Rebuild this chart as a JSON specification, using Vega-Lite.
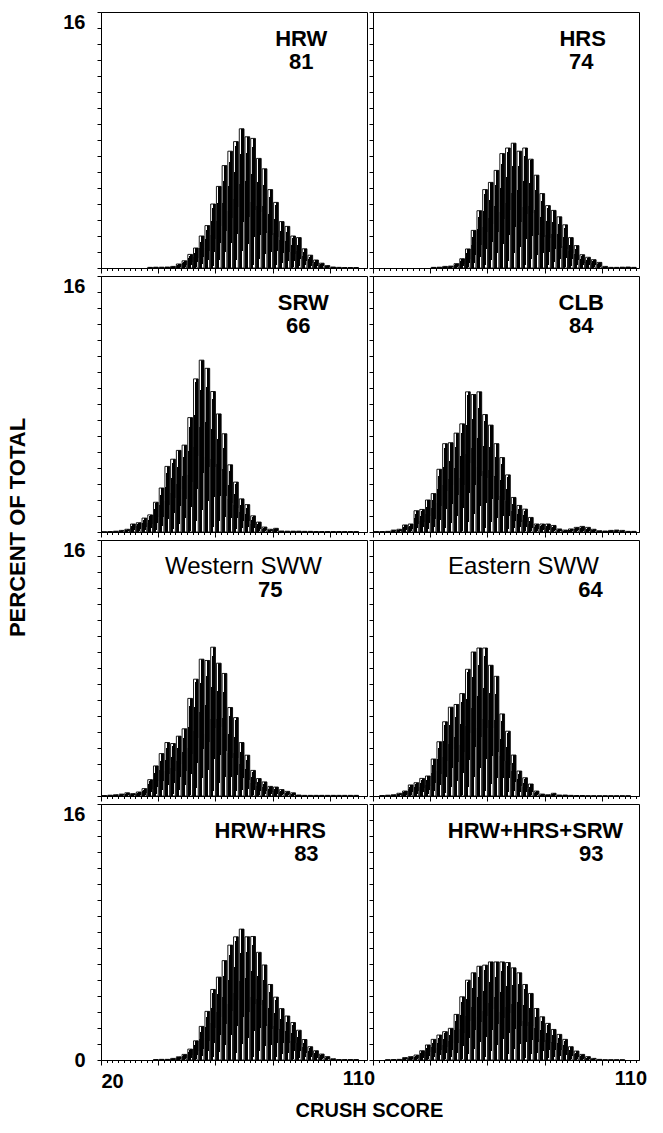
{
"$schema": "https://vega.github.io/schema/vega-lite/v6.json",
"padding": {"left": 5, "top": 11, "right": 5, "bottom": 5},
"background": "white",
"columns": 2,
"bounds": "flush",
"spacing": {"row": 8, "column": 6},
"datasets": {
"h": [
{"p":"HRW","b":36,"e":38,"v":0.04},{"p":"HRW","b":38,"e":40,"v":0.05},{"p":"HRW","b":40,"e":42,"v":0.05},{"p":"HRW","b":42,"e":44,"v":0.06},{"p":"HRW","b":44,"e":46,"v":0.1},{"p":"HRW","b":46,"e":48,"v":0.25},{"p":"HRW","b":48,"e":50,"v":0.45},{"p":"HRW","b":50,"e":52,"v":0.85},{"p":"HRW","b":52,"e":54,"v":1.25},{"p":"HRW","b":54,"e":56,"v":2.0},{"p":"HRW","b":56,"e":58,"v":2.65},{"p":"HRW","b":58,"e":60,"v":4.0},{"p":"HRW","b":60,"e":62,"v":5.1},{"p":"HRW","b":62,"e":64,"v":6.4},{"p":"HRW","b":64,"e":66,"v":7.3},{"p":"HRW","b":66,"e":68,"v":7.9},{"p":"HRW","b":68,"e":70,"v":8.7},{"p":"HRW","b":70,"e":72,"v":8.2},{"p":"HRW","b":72,"e":74,"v":8.1},{"p":"HRW","b":74,"e":76,"v":6.85},{"p":"HRW","b":76,"e":78,"v":6.2},{"p":"HRW","b":78,"e":80,"v":4.9},{"p":"HRW","b":80,"e":82,"v":4.1},{"p":"HRW","b":82,"e":84,"v":2.9},{"p":"HRW","b":84,"e":86,"v":2.6},{"p":"HRW","b":86,"e":88,"v":2.0},{"p":"HRW","b":88,"e":90,"v":1.9},{"p":"HRW","b":90,"e":92,"v":1.2},{"p":"HRW","b":92,"e":94,"v":0.8},{"p":"HRW","b":94,"e":96,"v":0.5},{"p":"HRW","b":96,"e":98,"v":0.3},{"p":"HRW","b":98,"e":100,"v":0.15},{"p":"HRW","b":100,"e":102,"v":0.06},{"p":"HRW","b":102,"e":104,"v":0.04},{"p":"HRW","b":104,"e":106,"v":0.03},{"p":"HRW","b":106,"e":108,"v":0.03},{"p":"HRW","b":108,"e":110,"v":0.03},
{"p":"HRS","b":40,"e":42,"v":0.04},{"p":"HRS","b":42,"e":44,"v":0.05},{"p":"HRS","b":44,"e":46,"v":0.1},{"p":"HRS","b":46,"e":48,"v":0.12},{"p":"HRS","b":48,"e":50,"v":0.27},{"p":"HRS","b":50,"e":52,"v":0.58},{"p":"HRS","b":52,"e":54,"v":1.19},{"p":"HRS","b":54,"e":56,"v":2.35},{"p":"HRS","b":56,"e":58,"v":3.58},{"p":"HRS","b":58,"e":60,"v":4.9},{"p":"HRS","b":60,"e":62,"v":5.35},{"p":"HRS","b":62,"e":64,"v":6.1},{"p":"HRS","b":64,"e":66,"v":7.15},{"p":"HRS","b":66,"e":68,"v":7.5},{"p":"HRS","b":68,"e":70,"v":7.8},{"p":"HRS","b":70,"e":72,"v":7.3},{"p":"HRS","b":72,"e":74,"v":7.5},{"p":"HRS","b":74,"e":76,"v":6.8},{"p":"HRS","b":76,"e":78,"v":5.8},{"p":"HRS","b":78,"e":80,"v":4.65},{"p":"HRS","b":80,"e":82,"v":3.9},{"p":"HRS","b":82,"e":84,"v":3.6},{"p":"HRS","b":84,"e":86,"v":3.2},{"p":"HRS","b":86,"e":88,"v":2.7},{"p":"HRS","b":88,"e":90,"v":1.9},{"p":"HRS","b":90,"e":92,"v":1.4},{"p":"HRS","b":92,"e":94,"v":0.83},{"p":"HRS","b":94,"e":96,"v":0.67},{"p":"HRS","b":96,"e":98,"v":0.52},{"p":"HRS","b":98,"e":100,"v":0.35},{"p":"HRS","b":100,"e":102,"v":0.1},{"p":"HRS","b":102,"e":104,"v":0.04},{"p":"HRS","b":104,"e":106,"v":0.04},{"p":"HRS","b":106,"e":108,"v":0.05},{"p":"HRS","b":108,"e":110,"v":0.06},{"p":"HRS","b":110,"e":112,"v":0.04},
{"p":"SRW","b":20,"e":22,"v":0.02},{"p":"SRW","b":22,"e":24,"v":0.03},{"p":"SRW","b":24,"e":26,"v":0.05},{"p":"SRW","b":26,"e":28,"v":0.1},{"p":"SRW","b":28,"e":30,"v":0.17},{"p":"SRW","b":30,"e":32,"v":0.5},{"p":"SRW","b":32,"e":34,"v":0.58},{"p":"SRW","b":34,"e":36,"v":0.87},{"p":"SRW","b":36,"e":38,"v":1.07},{"p":"SRW","b":38,"e":40,"v":1.86},{"p":"SRW","b":40,"e":42,"v":2.75},{"p":"SRW","b":42,"e":44,"v":4.1},{"p":"SRW","b":44,"e":46,"v":4.55},{"p":"SRW","b":46,"e":48,"v":5.1},{"p":"SRW","b":48,"e":50,"v":5.43},{"p":"SRW","b":50,"e":52,"v":7.15},{"p":"SRW","b":52,"e":54,"v":9.57},{"p":"SRW","b":54,"e":56,"v":10.74},{"p":"SRW","b":56,"e":58,"v":10.23},{"p":"SRW","b":58,"e":60,"v":8.78},{"p":"SRW","b":60,"e":62,"v":7.38},{"p":"SRW","b":62,"e":64,"v":6.14},{"p":"SRW","b":64,"e":66,"v":4.2},{"p":"SRW","b":66,"e":68,"v":3.12},{"p":"SRW","b":68,"e":70,"v":2.07},{"p":"SRW","b":70,"e":72,"v":1.71},{"p":"SRW","b":72,"e":74,"v":1.01},{"p":"SRW","b":74,"e":76,"v":0.62},{"p":"SRW","b":76,"e":78,"v":0.31},{"p":"SRW","b":78,"e":80,"v":0.17},{"p":"SRW","b":80,"e":82,"v":0.23},{"p":"SRW","b":82,"e":84,"v":0.06},{"p":"SRW","b":84,"e":86,"v":0.05},{"p":"SRW","b":86,"e":88,"v":0.05},{"p":"SRW","b":88,"e":90,"v":0.05},{"p":"SRW","b":90,"e":92,"v":0.04},{"p":"SRW","b":92,"e":94,"v":0.04},{"p":"SRW","b":94,"e":96,"v":0.03},{"p":"SRW","b":96,"e":98,"v":0.03},{"p":"SRW","b":98,"e":100,"v":0.03},{"p":"SRW","b":100,"e":102,"v":0.03},{"p":"SRW","b":102,"e":104,"v":0.03},{"p":"SRW","b":104,"e":106,"v":0.03},{"p":"SRW","b":106,"e":108,"v":0.03},{"p":"SRW","b":108,"e":110,"v":0.03},
{"p":"CLB","b":20,"e":22,"v":0.03},{"p":"CLB","b":22,"e":24,"v":0.03},{"p":"CLB","b":24,"e":26,"v":0.04},{"p":"CLB","b":26,"e":28,"v":0.12},{"p":"CLB","b":28,"e":30,"v":0.17},{"p":"CLB","b":30,"e":32,"v":0.44},{"p":"CLB","b":32,"e":34,"v":0.5},{"p":"CLB","b":34,"e":36,"v":1.33},{"p":"CLB","b":36,"e":38,"v":1.41},{"p":"CLB","b":38,"e":40,"v":2.0},{"p":"CLB","b":40,"e":42,"v":2.4},{"p":"CLB","b":42,"e":44,"v":3.92},{"p":"CLB","b":44,"e":46,"v":5.52},{"p":"CLB","b":46,"e":48,"v":5.58},{"p":"CLB","b":48,"e":50,"v":6.18},{"p":"CLB","b":50,"e":52,"v":6.76},{"p":"CLB","b":52,"e":54,"v":8.76},{"p":"CLB","b":54,"e":56,"v":8.59},{"p":"CLB","b":56,"e":58,"v":8.76},{"p":"CLB","b":58,"e":60,"v":7.34},{"p":"CLB","b":60,"e":62,"v":6.68},{"p":"CLB","b":62,"e":64,"v":5.52},{"p":"CLB","b":64,"e":66,"v":4.65},{"p":"CLB","b":66,"e":68,"v":3.57},{"p":"CLB","b":68,"e":70,"v":2.16},{"p":"CLB","b":70,"e":72,"v":1.66},{"p":"CLB","b":72,"e":74,"v":1.43},{"p":"CLB","b":74,"e":76,"v":0.91},{"p":"CLB","b":76,"e":78,"v":0.5},{"p":"CLB","b":78,"e":80,"v":0.5},{"p":"CLB","b":80,"e":82,"v":0.5},{"p":"CLB","b":82,"e":84,"v":0.41},{"p":"CLB","b":84,"e":86,"v":0.19},{"p":"CLB","b":86,"e":88,"v":0.12},{"p":"CLB","b":88,"e":90,"v":0.19},{"p":"CLB","b":90,"e":92,"v":0.29},{"p":"CLB","b":92,"e":94,"v":0.35},{"p":"CLB","b":94,"e":96,"v":0.29},{"p":"CLB","b":96,"e":98,"v":0.17},{"p":"CLB","b":98,"e":100,"v":0.08},{"p":"CLB","b":100,"e":102,"v":0.06},{"p":"CLB","b":102,"e":104,"v":0.1},{"p":"CLB","b":104,"e":106,"v":0.12},{"p":"CLB","b":106,"e":108,"v":0.1},{"p":"CLB","b":108,"e":110,"v":0.04},{"p":"CLB","b":110,"e":112,"v":0.04},
{"p":"WSWW","b":20,"e":22,"v":0.03},{"p":"WSWW","b":22,"e":24,"v":0.05},{"p":"WSWW","b":24,"e":26,"v":0.08},{"p":"WSWW","b":26,"e":28,"v":0.12},{"p":"WSWW","b":28,"e":30,"v":0.2},{"p":"WSWW","b":30,"e":32,"v":0.15},{"p":"WSWW","b":32,"e":34,"v":0.25},{"p":"WSWW","b":34,"e":36,"v":0.46},{"p":"WSWW","b":36,"e":38,"v":1.02},{"p":"WSWW","b":38,"e":40,"v":1.88},{"p":"WSWW","b":40,"e":42,"v":2.65},{"p":"WSWW","b":42,"e":44,"v":3.34},{"p":"WSWW","b":44,"e":46,"v":3.28},{"p":"WSWW","b":46,"e":48,"v":3.74},{"p":"WSWW","b":48,"e":50,"v":4.2},{"p":"WSWW","b":50,"e":52,"v":6.1},{"p":"WSWW","b":52,"e":54,"v":7.3},{"p":"WSWW","b":54,"e":56,"v":8.55},{"p":"WSWW","b":56,"e":58,"v":8.47},{"p":"WSWW","b":58,"e":60,"v":9.3},{"p":"WSWW","b":60,"e":62,"v":8.3},{"p":"WSWW","b":62,"e":64,"v":7.66},{"p":"WSWW","b":64,"e":66,"v":5.53},{"p":"WSWW","b":66,"e":68,"v":4.9},{"p":"WSWW","b":68,"e":70,"v":3.34},{"p":"WSWW","b":70,"e":72,"v":2.55},{"p":"WSWW","b":72,"e":74,"v":1.6},{"p":"WSWW","b":74,"e":76,"v":1.09},{"p":"WSWW","b":76,"e":78,"v":0.88},{"p":"WSWW","b":78,"e":80,"v":0.6},{"p":"WSWW","b":80,"e":82,"v":0.56},{"p":"WSWW","b":82,"e":84,"v":0.4},{"p":"WSWW","b":84,"e":86,"v":0.29},{"p":"WSWW","b":86,"e":88,"v":0.2},{"p":"WSWW","b":88,"e":90,"v":0.06},{"p":"WSWW","b":90,"e":92,"v":0.04},{"p":"WSWW","b":92,"e":94,"v":0.04},{"p":"WSWW","b":94,"e":96,"v":0.04},{"p":"WSWW","b":96,"e":98,"v":0.04},{"p":"WSWW","b":98,"e":100,"v":0.04},{"p":"WSWW","b":100,"e":102,"v":0.04},{"p":"WSWW","b":102,"e":104,"v":0.04},{"p":"WSWW","b":104,"e":106,"v":0.04},{"p":"WSWW","b":106,"e":108,"v":0.04},{"p":"WSWW","b":108,"e":110,"v":0.04},
{"p":"ESWW","b":22,"e":24,"v":0.03},{"p":"ESWW","b":24,"e":26,"v":0.05},{"p":"ESWW","b":26,"e":28,"v":0.08},{"p":"ESWW","b":28,"e":30,"v":0.17},{"p":"ESWW","b":30,"e":32,"v":0.31},{"p":"ESWW","b":32,"e":34,"v":0.69},{"p":"ESWW","b":34,"e":36,"v":0.83},{"p":"ESWW","b":36,"e":38,"v":1.1},{"p":"ESWW","b":38,"e":40,"v":1.25},{"p":"ESWW","b":40,"e":42,"v":2.31},{"p":"ESWW","b":42,"e":44,"v":3.39},{"p":"ESWW","b":44,"e":46,"v":4.64},{"p":"ESWW","b":46,"e":48,"v":5.55},{"p":"ESWW","b":48,"e":50,"v":5.72},{"p":"ESWW","b":50,"e":52,"v":6.4},{"p":"ESWW","b":52,"e":54,"v":7.92},{"p":"ESWW","b":54,"e":56,"v":9.0},{"p":"ESWW","b":56,"e":58,"v":9.25},{"p":"ESWW","b":58,"e":60,"v":9.25},{"p":"ESWW","b":60,"e":62,"v":8.17},{"p":"ESWW","b":62,"e":64,"v":7.48},{"p":"ESWW","b":64,"e":66,"v":5.13},{"p":"ESWW","b":66,"e":68,"v":4.05},{"p":"ESWW","b":68,"e":70,"v":2.56},{"p":"ESWW","b":70,"e":72,"v":1.56},{"p":"ESWW","b":72,"e":74,"v":1.14},{"p":"ESWW","b":74,"e":76,"v":0.75},{"p":"ESWW","b":76,"e":78,"v":0.31},{"p":"ESWW","b":78,"e":80,"v":0.12},{"p":"ESWW","b":80,"e":82,"v":0.08},{"p":"ESWW","b":82,"e":84,"v":0.17},{"p":"ESWW","b":84,"e":86,"v":0.06},{"p":"ESWW","b":86,"e":88,"v":0.06},{"p":"ESWW","b":88,"e":90,"v":0.04},{"p":"ESWW","b":90,"e":92,"v":0.03},{"p":"ESWW","b":92,"e":94,"v":0.03},{"p":"ESWW","b":94,"e":96,"v":0.02},{"p":"ESWW","b":96,"e":98,"v":0.02},{"p":"ESWW","b":98,"e":100,"v":0.02},{"p":"ESWW","b":100,"e":102,"v":0.02},{"p":"ESWW","b":102,"e":104,"v":0.02},{"p":"ESWW","b":104,"e":106,"v":0.02},{"p":"ESWW","b":106,"e":108,"v":0.02},{"p":"ESWW","b":108,"e":110,"v":0.02},
{"p":"HH","b":38,"e":40,"v":0.03},{"p":"HH","b":40,"e":42,"v":0.04},{"p":"HH","b":42,"e":44,"v":0.04},{"p":"HH","b":44,"e":46,"v":0.1},{"p":"HH","b":46,"e":48,"v":0.2},{"p":"HH","b":48,"e":50,"v":0.35},{"p":"HH","b":50,"e":52,"v":0.68},{"p":"HH","b":52,"e":54,"v":1.2},{"p":"HH","b":54,"e":56,"v":2.1},{"p":"HH","b":56,"e":58,"v":3.04},{"p":"HH","b":58,"e":60,"v":4.41},{"p":"HH","b":60,"e":62,"v":5.18},{"p":"HH","b":62,"e":64,"v":6.21},{"p":"HH","b":64,"e":66,"v":7.18},{"p":"HH","b":66,"e":68,"v":7.7},{"p":"HH","b":68,"e":70,"v":8.18},{"p":"HH","b":70,"e":72,"v":7.7},{"p":"HH","b":72,"e":74,"v":7.72},{"p":"HH","b":74,"e":76,"v":6.73},{"p":"HH","b":76,"e":78,"v":5.94},{"p":"HH","b":78,"e":80,"v":4.72},{"p":"HH","b":80,"e":82,"v":3.93},{"p":"HH","b":82,"e":84,"v":3.21},{"p":"HH","b":84,"e":86,"v":2.75},{"p":"HH","b":86,"e":88,"v":2.34},{"p":"HH","b":88,"e":90,"v":1.86},{"p":"HH","b":90,"e":92,"v":1.28},{"p":"HH","b":92,"e":94,"v":0.83},{"p":"HH","b":94,"e":96,"v":0.58},{"p":"HH","b":96,"e":98,"v":0.37},{"p":"HH","b":98,"e":100,"v":0.21},{"p":"HH","b":100,"e":102,"v":0.08},{"p":"HH","b":102,"e":104,"v":0.03},{"p":"HH","b":104,"e":106,"v":0.03},{"p":"HH","b":106,"e":108,"v":0.03},{"p":"HH","b":108,"e":110,"v":0.03},
{"p":"HHS","b":24,"e":26,"v":0.02},{"p":"HHS","b":26,"e":28,"v":0.03},{"p":"HHS","b":28,"e":30,"v":0.04},{"p":"HHS","b":30,"e":32,"v":0.15},{"p":"HHS","b":32,"e":34,"v":0.21},{"p":"HHS","b":34,"e":36,"v":0.31},{"p":"HHS","b":36,"e":38,"v":0.58},{"p":"HHS","b":38,"e":40,"v":0.94},{"p":"HHS","b":40,"e":42,"v":1.29},{"p":"HHS","b":42,"e":44,"v":1.56},{"p":"HHS","b":44,"e":46,"v":1.77},{"p":"HHS","b":46,"e":48,"v":1.98},{"p":"HHS","b":48,"e":50,"v":2.85},{"p":"HHS","b":50,"e":52,"v":3.95},{"p":"HHS","b":52,"e":54,"v":4.99},{"p":"HHS","b":54,"e":56,"v":5.45},{"p":"HHS","b":56,"e":58,"v":5.86},{"p":"HHS","b":58,"e":60,"v":5.93},{"p":"HHS","b":60,"e":62,"v":6.13},{"p":"HHS","b":62,"e":64,"v":6.13},{"p":"HHS","b":64,"e":66,"v":6.13},{"p":"HHS","b":66,"e":68,"v":6.09},{"p":"HHS","b":68,"e":70,"v":5.76},{"p":"HHS","b":70,"e":72,"v":5.45},{"p":"HHS","b":72,"e":74,"v":4.72},{"p":"HHS","b":74,"e":76,"v":4.16},{"p":"HHS","b":76,"e":78,"v":3.22},{"p":"HHS","b":78,"e":80,"v":2.7},{"p":"HHS","b":80,"e":82,"v":2.29},{"p":"HHS","b":82,"e":84,"v":1.91},{"p":"HHS","b":84,"e":86,"v":1.6},{"p":"HHS","b":86,"e":88,"v":1.29},{"p":"HHS","b":88,"e":90,"v":0.83},{"p":"HHS","b":90,"e":92,"v":0.56},{"p":"HHS","b":92,"e":94,"v":0.35},{"p":"HHS","b":94,"e":96,"v":0.21},{"p":"HHS","b":96,"e":98,"v":0.1},{"p":"HHS","b":98,"e":100,"v":0.04},{"p":"HHS","b":100,"e":102,"v":0.02},{"p":"HHS","b":102,"e":104,"v":0.02},{"p":"HHS","b":104,"e":106,"v":0.02},{"p":"HHS","b":106,"e":108,"v":0.02}
],
"lab": [
{"p":"HRW","t":"HRW","tx":90,"ty":14.3},{"p":"HRW","t":"81","tx":90,"ty":12.85},
{"p":"HRS","t":"HRS","tx":93.3,"ty":14.3},{"p":"HRS","t":"74","tx":92.8,"ty":12.85},
{"p":"SRW","t":"SRW","tx":90.7,"ty":14.3},{"p":"SRW","t":"66","tx":89,"ty":12.85},
{"p":"CLB","t":"CLB","tx":92.8,"ty":14.3},{"p":"CLB","t":"84","tx":92.8,"ty":12.85},
{"p":"WSWW","t":"Western SWW","tx":69.8,"ty":14.3},{"p":"WSWW","t":"75","tx":79.2,"ty":12.85},
{"p":"ESWW","t":"Eastern SWW","tx":72.6,"ty":14.3},{"p":"ESWW","t":"64","tx":96,"ty":12.85},
{"p":"HH","t":"HRW+HRS","tx":79.2,"ty":14.3},{"p":"HH","t":"83","tx":91.8,"ty":12.85},
{"p":"HHS","t":"HRW+HRS+SRW","tx":76.8,"ty":14.3},{"p":"HHS","t":"93","tx":96.3,"ty":12.85}
]
},
"concat": [
 {"width": 266, "height": 256, "layer": [
  {"data": {"name": "h"}, "transform": [{"filter": "datum.p == 'HRW'"}],
   "mark": {"type": "bar", "stroke": "black", "strokeWidth": 0.9, "fill": {"gradient": "linear", "x1": 0, "y1": 0, "x2": 1, "y2": 1, "stops": [{"offset": 0, "color": "white"}, {"offset": 0.22, "color": "white"}, {"offset": 0.22, "color": "black"}, {"offset": 0.78, "color": "black"}, {"offset": 0.78, "color": "white"}, {"offset": 1, "color": "white"}]}},
   "encoding": {
    "x": {"field": "b", "type": "quantitative", "bin": {"binned": true}, "scale": {"domain": [20, 113], "nice": false, "zero": false}, "axis": {"values": [20,22,24,26,28,30,32,34,36,38,40,42,44,46,48,50,52,54,56,58,60,62,64,66,68,70,72,74,76,78,80,82,84,86,88,90,92,94,96,98,100,102,104,106,108,110,112], "grid": false, "title": null, "labels": false, "tickSize": {"condition": {"test": "datum.value % 20 == 0", "value": 5}, "value": 2.5}}},
    "x2": {"field": "e"},
    "y": {"field": "v", "type": "quantitative", "scale": {"domain": [0, 16], "nice": false}, "axis": {"values": [0,1,2,3,4,5,6,7,8,9,10,11,12,13,14,15,16], "grid": false, "title": null, "tickSize": 4, "labelExpr": "datum.value == 16 ? '16' : ''", "labelBaseline": "top", "labelPadding": 12, "labelOverlap": false, "labelFlush": false}}
   }},
  {"data": {"name": "lab"}, "transform": [{"filter": "datum.p == 'HRW'"}],
   "mark": {"type": "text", "font": "Liberation Sans", "fontSize": {"expr": "indexof(datum.t, 'SWW') >= 0 ? 24 : 22"}, "fontWeight": {"expr": "indexof(datum.t, 'SWW') >= 0 ? 'normal' : 'bold'"}, "color": "black", "align": "center", "baseline": "middle"},
   "encoding": {
    "x": {"field": "tx", "type": "quantitative", "scale": {"domain": [20, 113], "nice": false, "zero": false}, "axis": {"values": [20,22,24,26,28,30,32,34,36,38,40,42,44,46,48,50,52,54,56,58,60,62,64,66,68,70,72,74,76,78,80,82,84,86,88,90,92,94,96,98,100,102,104,106,108,110,112], "grid": false, "title": null, "labels": false, "tickSize": {"condition": {"test": "datum.value % 20 == 0", "value": 5}, "value": 2.5}}},
    "y": {"field": "ty", "type": "quantitative", "scale": {"domain": [0, 16], "nice": false}, "axis": {"values": [0,1,2,3,4,5,6,7,8,9,10,11,12,13,14,15,16], "grid": false, "title": null, "tickSize": 4, "labelExpr": "datum.value == 16 ? '16' : ''", "labelBaseline": "top", "labelPadding": 12, "labelOverlap": false, "labelFlush": false}},
    "text": {"field": "t"}}}
 ]},
 {"width": 266, "height": 256, "layer": [
  {"data": {"name": "h"}, "transform": [{"filter": "datum.p == 'HRS'"}],
   "mark": {"type": "bar", "stroke": "black", "strokeWidth": 0.9, "fill": {"gradient": "linear", "x1": 0, "y1": 0, "x2": 1, "y2": 1, "stops": [{"offset": 0, "color": "white"}, {"offset": 0.22, "color": "white"}, {"offset": 0.22, "color": "black"}, {"offset": 0.78, "color": "black"}, {"offset": 0.78, "color": "white"}, {"offset": 1, "color": "white"}]}},
   "encoding": {
    "x": {"field": "b", "type": "quantitative", "bin": {"binned": true}, "scale": {"domain": [20, 113], "nice": false, "zero": false}, "axis": {"values": [20,22,24,26,28,30,32,34,36,38,40,42,44,46,48,50,52,54,56,58,60,62,64,66,68,70,72,74,76,78,80,82,84,86,88,90,92,94,96,98,100,102,104,106,108,110,112], "grid": false, "title": null, "labels": false, "tickSize": {"condition": {"test": "datum.value % 20 == 0", "value": 5}, "value": 2.5}}},
    "x2": {"field": "e"},
    "y": {"field": "v", "type": "quantitative", "scale": {"domain": [0, 16], "nice": false}, "axis": {"values": [0,1,2,3,4,5,6,7,8,9,10,11,12,13,14,15,16], "grid": false, "title": null, "tickSize": 4, "labels": false}}
   }},
  {"data": {"name": "lab"}, "transform": [{"filter": "datum.p == 'HRS'"}],
   "mark": {"type": "text", "font": "Liberation Sans", "fontSize": {"expr": "indexof(datum.t, 'SWW') >= 0 ? 24 : 22"}, "fontWeight": {"expr": "indexof(datum.t, 'SWW') >= 0 ? 'normal' : 'bold'"}, "color": "black", "align": "center", "baseline": "middle"},
   "encoding": {
    "x": {"field": "tx", "type": "quantitative", "scale": {"domain": [20, 113], "nice": false, "zero": false}, "axis": {"values": [20,22,24,26,28,30,32,34,36,38,40,42,44,46,48,50,52,54,56,58,60,62,64,66,68,70,72,74,76,78,80,82,84,86,88,90,92,94,96,98,100,102,104,106,108,110,112], "grid": false, "title": null, "labels": false, "tickSize": {"condition": {"test": "datum.value % 20 == 0", "value": 5}, "value": 2.5}}},
    "y": {"field": "ty", "type": "quantitative", "scale": {"domain": [0, 16], "nice": false}, "axis": {"values": [0,1,2,3,4,5,6,7,8,9,10,11,12,13,14,15,16], "grid": false, "title": null, "tickSize": 4, "labels": false}},
    "text": {"field": "t"}}}
 ]},
 {"width": 266, "height": 256, "layer": [
  {"data": {"name": "h"}, "transform": [{"filter": "datum.p == 'SRW'"}],
   "mark": {"type": "bar", "stroke": "black", "strokeWidth": 0.9, "fill": {"gradient": "linear", "x1": 0, "y1": 0, "x2": 1, "y2": 1, "stops": [{"offset": 0, "color": "white"}, {"offset": 0.22, "color": "white"}, {"offset": 0.22, "color": "black"}, {"offset": 0.78, "color": "black"}, {"offset": 0.78, "color": "white"}, {"offset": 1, "color": "white"}]}},
   "encoding": {
    "x": {"field": "b", "type": "quantitative", "bin": {"binned": true}, "scale": {"domain": [20, 113], "nice": false, "zero": false}, "axis": {"values": [20,22,24,26,28,30,32,34,36,38,40,42,44,46,48,50,52,54,56,58,60,62,64,66,68,70,72,74,76,78,80,82,84,86,88,90,92,94,96,98,100,102,104,106,108,110,112], "grid": false, "title": null, "labels": false, "tickSize": {"condition": {"test": "datum.value % 20 == 0", "value": 5}, "value": 2.5}}},
    "x2": {"field": "e"},
    "y": {"field": "v", "type": "quantitative", "scale": {"domain": [0, 16], "nice": false}, "axis": {"values": [0,1,2,3,4,5,6,7,8,9,10,11,12,13,14,15,16], "grid": false, "title": "PERCENT OF TOTAL", "titleX": -72, "titleY": 251, "titleAngle": 270, "titleAlign": "center", "titleBaseline": "bottom", "titleFontSize": 22, "tickSize": 4, "labelExpr": "datum.value == 16 ? '16' : ''", "labelBaseline": "top", "labelPadding": 12, "labelOverlap": false, "labelFlush": false}}
   }},
  {"data": {"name": "lab"}, "transform": [{"filter": "datum.p == 'SRW'"}],
   "mark": {"type": "text", "font": "Liberation Sans", "fontSize": {"expr": "indexof(datum.t, 'SWW') >= 0 ? 24 : 22"}, "fontWeight": {"expr": "indexof(datum.t, 'SWW') >= 0 ? 'normal' : 'bold'"}, "color": "black", "align": "center", "baseline": "middle"},
   "encoding": {
    "x": {"field": "tx", "type": "quantitative", "scale": {"domain": [20, 113], "nice": false, "zero": false}, "axis": {"values": [20,22,24,26,28,30,32,34,36,38,40,42,44,46,48,50,52,54,56,58,60,62,64,66,68,70,72,74,76,78,80,82,84,86,88,90,92,94,96,98,100,102,104,106,108,110,112], "grid": false, "title": null, "labels": false, "tickSize": {"condition": {"test": "datum.value % 20 == 0", "value": 5}, "value": 2.5}}},
    "y": {"field": "ty", "type": "quantitative", "scale": {"domain": [0, 16], "nice": false}, "axis": {"values": [0,1,2,3,4,5,6,7,8,9,10,11,12,13,14,15,16], "grid": false, "title": "PERCENT OF TOTAL", "titleX": -72, "titleY": 251, "titleAngle": 270, "titleAlign": "center", "titleBaseline": "bottom", "titleFontSize": 22, "tickSize": 4, "labelExpr": "datum.value == 16 ? '16' : ''", "labelBaseline": "top", "labelPadding": 12, "labelOverlap": false, "labelFlush": false}},
    "text": {"field": "t"}}}
 ]},
 {"width": 266, "height": 256, "layer": [
  {"data": {"name": "h"}, "transform": [{"filter": "datum.p == 'CLB'"}],
   "mark": {"type": "bar", "stroke": "black", "strokeWidth": 0.9, "fill": {"gradient": "linear", "x1": 0, "y1": 0, "x2": 1, "y2": 1, "stops": [{"offset": 0, "color": "white"}, {"offset": 0.22, "color": "white"}, {"offset": 0.22, "color": "black"}, {"offset": 0.78, "color": "black"}, {"offset": 0.78, "color": "white"}, {"offset": 1, "color": "white"}]}},
   "encoding": {
    "x": {"field": "b", "type": "quantitative", "bin": {"binned": true}, "scale": {"domain": [20, 113], "nice": false, "zero": false}, "axis": {"values": [20,22,24,26,28,30,32,34,36,38,40,42,44,46,48,50,52,54,56,58,60,62,64,66,68,70,72,74,76,78,80,82,84,86,88,90,92,94,96,98,100,102,104,106,108,110,112], "grid": false, "title": null, "labels": false, "tickSize": {"condition": {"test": "datum.value % 20 == 0", "value": 5}, "value": 2.5}}},
    "x2": {"field": "e"},
    "y": {"field": "v", "type": "quantitative", "scale": {"domain": [0, 16], "nice": false}, "axis": {"values": [0,1,2,3,4,5,6,7,8,9,10,11,12,13,14,15,16], "grid": false, "title": null, "tickSize": 4, "labels": false}}
   }},
  {"data": {"name": "lab"}, "transform": [{"filter": "datum.p == 'CLB'"}],
   "mark": {"type": "text", "font": "Liberation Sans", "fontSize": {"expr": "indexof(datum.t, 'SWW') >= 0 ? 24 : 22"}, "fontWeight": {"expr": "indexof(datum.t, 'SWW') >= 0 ? 'normal' : 'bold'"}, "color": "black", "align": "center", "baseline": "middle"},
   "encoding": {
    "x": {"field": "tx", "type": "quantitative", "scale": {"domain": [20, 113], "nice": false, "zero": false}, "axis": {"values": [20,22,24,26,28,30,32,34,36,38,40,42,44,46,48,50,52,54,56,58,60,62,64,66,68,70,72,74,76,78,80,82,84,86,88,90,92,94,96,98,100,102,104,106,108,110,112], "grid": false, "title": null, "labels": false, "tickSize": {"condition": {"test": "datum.value % 20 == 0", "value": 5}, "value": 2.5}}},
    "y": {"field": "ty", "type": "quantitative", "scale": {"domain": [0, 16], "nice": false}, "axis": {"values": [0,1,2,3,4,5,6,7,8,9,10,11,12,13,14,15,16], "grid": false, "title": null, "tickSize": 4, "labels": false}},
    "text": {"field": "t"}}}
 ]},
 {"width": 266, "height": 256, "layer": [
  {"data": {"name": "h"}, "transform": [{"filter": "datum.p == 'WSWW'"}],
   "mark": {"type": "bar", "stroke": "black", "strokeWidth": 0.9, "fill": {"gradient": "linear", "x1": 0, "y1": 0, "x2": 1, "y2": 1, "stops": [{"offset": 0, "color": "white"}, {"offset": 0.22, "color": "white"}, {"offset": 0.22, "color": "black"}, {"offset": 0.78, "color": "black"}, {"offset": 0.78, "color": "white"}, {"offset": 1, "color": "white"}]}},
   "encoding": {
    "x": {"field": "b", "type": "quantitative", "bin": {"binned": true}, "scale": {"domain": [20, 113], "nice": false, "zero": false}, "axis": {"values": [20,22,24,26,28,30,32,34,36,38,40,42,44,46,48,50,52,54,56,58,60,62,64,66,68,70,72,74,76,78,80,82,84,86,88,90,92,94,96,98,100,102,104,106,108,110,112], "grid": false, "title": null, "labels": false, "tickSize": {"condition": {"test": "datum.value % 20 == 0", "value": 5}, "value": 2.5}}},
    "x2": {"field": "e"},
    "y": {"field": "v", "type": "quantitative", "scale": {"domain": [0, 16], "nice": false}, "axis": {"values": [0,1,2,3,4,5,6,7,8,9,10,11,12,13,14,15,16], "grid": false, "title": null, "tickSize": 4, "labelExpr": "datum.value == 16 ? '16' : ''", "labelBaseline": "top", "labelPadding": 12, "labelOverlap": false, "labelFlush": false}}
   }},
  {"data": {"name": "lab"}, "transform": [{"filter": "datum.p == 'WSWW'"}],
   "mark": {"type": "text", "font": "Liberation Sans", "fontSize": {"expr": "indexof(datum.t, 'SWW') >= 0 ? 24 : 22"}, "fontWeight": {"expr": "indexof(datum.t, 'SWW') >= 0 ? 'normal' : 'bold'"}, "color": "black", "align": "center", "baseline": "middle"},
   "encoding": {
    "x": {"field": "tx", "type": "quantitative", "scale": {"domain": [20, 113], "nice": false, "zero": false}, "axis": {"values": [20,22,24,26,28,30,32,34,36,38,40,42,44,46,48,50,52,54,56,58,60,62,64,66,68,70,72,74,76,78,80,82,84,86,88,90,92,94,96,98,100,102,104,106,108,110,112], "grid": false, "title": null, "labels": false, "tickSize": {"condition": {"test": "datum.value % 20 == 0", "value": 5}, "value": 2.5}}},
    "y": {"field": "ty", "type": "quantitative", "scale": {"domain": [0, 16], "nice": false}, "axis": {"values": [0,1,2,3,4,5,6,7,8,9,10,11,12,13,14,15,16], "grid": false, "title": null, "tickSize": 4, "labelExpr": "datum.value == 16 ? '16' : ''", "labelBaseline": "top", "labelPadding": 12, "labelOverlap": false, "labelFlush": false}},
    "text": {"field": "t"}}}
 ]},
 {"width": 266, "height": 256, "layer": [
  {"data": {"name": "h"}, "transform": [{"filter": "datum.p == 'ESWW'"}],
   "mark": {"type": "bar", "stroke": "black", "strokeWidth": 0.9, "fill": {"gradient": "linear", "x1": 0, "y1": 0, "x2": 1, "y2": 1, "stops": [{"offset": 0, "color": "white"}, {"offset": 0.22, "color": "white"}, {"offset": 0.22, "color": "black"}, {"offset": 0.78, "color": "black"}, {"offset": 0.78, "color": "white"}, {"offset": 1, "color": "white"}]}},
   "encoding": {
    "x": {"field": "b", "type": "quantitative", "bin": {"binned": true}, "scale": {"domain": [20, 113], "nice": false, "zero": false}, "axis": {"values": [20,22,24,26,28,30,32,34,36,38,40,42,44,46,48,50,52,54,56,58,60,62,64,66,68,70,72,74,76,78,80,82,84,86,88,90,92,94,96,98,100,102,104,106,108,110,112], "grid": false, "title": null, "labels": false, "tickSize": {"condition": {"test": "datum.value % 20 == 0", "value": 5}, "value": 2.5}}},
    "x2": {"field": "e"},
    "y": {"field": "v", "type": "quantitative", "scale": {"domain": [0, 16], "nice": false}, "axis": {"values": [0,1,2,3,4,5,6,7,8,9,10,11,12,13,14,15,16], "grid": false, "title": null, "tickSize": 4, "labels": false}}
   }},
  {"data": {"name": "lab"}, "transform": [{"filter": "datum.p == 'ESWW'"}],
   "mark": {"type": "text", "font": "Liberation Sans", "fontSize": {"expr": "indexof(datum.t, 'SWW') >= 0 ? 24 : 22"}, "fontWeight": {"expr": "indexof(datum.t, 'SWW') >= 0 ? 'normal' : 'bold'"}, "color": "black", "align": "center", "baseline": "middle"},
   "encoding": {
    "x": {"field": "tx", "type": "quantitative", "scale": {"domain": [20, 113], "nice": false, "zero": false}, "axis": {"values": [20,22,24,26,28,30,32,34,36,38,40,42,44,46,48,50,52,54,56,58,60,62,64,66,68,70,72,74,76,78,80,82,84,86,88,90,92,94,96,98,100,102,104,106,108,110,112], "grid": false, "title": null, "labels": false, "tickSize": {"condition": {"test": "datum.value % 20 == 0", "value": 5}, "value": 2.5}}},
    "y": {"field": "ty", "type": "quantitative", "scale": {"domain": [0, 16], "nice": false}, "axis": {"values": [0,1,2,3,4,5,6,7,8,9,10,11,12,13,14,15,16], "grid": false, "title": null, "tickSize": 4, "labels": false}},
    "text": {"field": "t"}}}
 ]},
 {"width": 266, "height": 256, "layer": [
  {"data": {"name": "h"}, "transform": [{"filter": "datum.p == 'HH'"}],
   "mark": {"type": "bar", "stroke": "black", "strokeWidth": 0.9, "fill": {"gradient": "linear", "x1": 0, "y1": 0, "x2": 1, "y2": 1, "stops": [{"offset": 0, "color": "white"}, {"offset": 0.22, "color": "white"}, {"offset": 0.22, "color": "black"}, {"offset": 0.78, "color": "black"}, {"offset": 0.78, "color": "white"}, {"offset": 1, "color": "white"}]}},
   "encoding": {
    "x": {"field": "b", "type": "quantitative", "bin": {"binned": true}, "scale": {"domain": [20, 113], "nice": false, "zero": false}, "axis": {"values": [20,22,24,26,28,30,32,34,36,38,40,42,44,46,48,50,52,54,56,58,60,62,64,66,68,70,72,74,76,78,80,82,84,86,88,90,92,94,96,98,100,102,104,106,108,110,112], "grid": false, "title": "CRUSH SCORE", "titleX": 268, "titleY": 50, "titleAlign": "center", "titleBaseline": "middle", "titleFontSize": 20, "labelExpr": "datum.value == 20 || datum.value == 110 ? datum.label : ''", "labelPadding": 6, "labelOverlap": false, "tickSize": {"condition": {"test": "datum.value % 20 == 0", "value": 5}, "value": 2.5}}},
    "x2": {"field": "e"},
    "y": {"field": "v", "type": "quantitative", "scale": {"domain": [0, 16], "nice": false}, "axis": {"values": [0,1,2,3,4,5,6,7,8,9,10,11,12,13,14,15,16], "grid": false, "title": null, "tickSize": 4, "labelExpr": "datum.value == 16 || datum.value == 0 ? datum.label : ''", "labelBaseline": {"condition": {"test": "datum.value == 16", "value": "top"}, "value": "middle"}, "labelPadding": 12, "labelOverlap": false, "labelFlush": false}}
   }},
  {"data": {"name": "lab"}, "transform": [{"filter": "datum.p == 'HH'"}],
   "mark": {"type": "text", "font": "Liberation Sans", "fontSize": {"expr": "indexof(datum.t, 'SWW') >= 0 ? 24 : 22"}, "fontWeight": {"expr": "indexof(datum.t, 'SWW') >= 0 ? 'normal' : 'bold'"}, "color": "black", "align": "center", "baseline": "middle"},
   "encoding": {
    "x": {"field": "tx", "type": "quantitative", "scale": {"domain": [20, 113], "nice": false, "zero": false}, "axis": {"values": [20,22,24,26,28,30,32,34,36,38,40,42,44,46,48,50,52,54,56,58,60,62,64,66,68,70,72,74,76,78,80,82,84,86,88,90,92,94,96,98,100,102,104,106,108,110,112], "grid": false, "title": "CRUSH SCORE", "titleX": 268, "titleY": 50, "titleAlign": "center", "titleBaseline": "middle", "titleFontSize": 20, "labelExpr": "datum.value == 20 || datum.value == 110 ? datum.label : ''", "labelPadding": 6, "labelOverlap": false, "tickSize": {"condition": {"test": "datum.value % 20 == 0", "value": 5}, "value": 2.5}}},
    "y": {"field": "ty", "type": "quantitative", "scale": {"domain": [0, 16], "nice": false}, "axis": {"values": [0,1,2,3,4,5,6,7,8,9,10,11,12,13,14,15,16], "grid": false, "title": null, "tickSize": 4, "labelExpr": "datum.value == 16 || datum.value == 0 ? datum.label : ''", "labelBaseline": {"condition": {"test": "datum.value == 16", "value": "top"}, "value": "middle"}, "labelPadding": 12, "labelOverlap": false, "labelFlush": false}},
    "text": {"field": "t"}}}
 ]},
 {"width": 266, "height": 256, "layer": [
  {"data": {"name": "h"}, "transform": [{"filter": "datum.p == 'HHS'"}],
   "mark": {"type": "bar", "stroke": "black", "strokeWidth": 0.9, "fill": {"gradient": "linear", "x1": 0, "y1": 0, "x2": 1, "y2": 1, "stops": [{"offset": 0, "color": "white"}, {"offset": 0.22, "color": "white"}, {"offset": 0.22, "color": "black"}, {"offset": 0.78, "color": "black"}, {"offset": 0.78, "color": "white"}, {"offset": 1, "color": "white"}]}},
   "encoding": {
    "x": {"field": "b", "type": "quantitative", "bin": {"binned": true}, "scale": {"domain": [20, 113], "nice": false, "zero": false}, "axis": {"values": [20,22,24,26,28,30,32,34,36,38,40,42,44,46,48,50,52,54,56,58,60,62,64,66,68,70,72,74,76,78,80,82,84,86,88,90,92,94,96,98,100,102,104,106,108,110,112], "grid": false, "title": null, "labelExpr": "datum.value == 110 ? datum.label : ''", "labelPadding": 6, "labelOverlap": false, "tickSize": {"condition": {"test": "datum.value % 20 == 0", "value": 5}, "value": 2.5}}},
    "x2": {"field": "e"},
    "y": {"field": "v", "type": "quantitative", "scale": {"domain": [0, 16], "nice": false}, "axis": {"values": [0,1,2,3,4,5,6,7,8,9,10,11,12,13,14,15,16], "grid": false, "title": null, "tickSize": 4, "labels": false}}
   }},
  {"data": {"name": "lab"}, "transform": [{"filter": "datum.p == 'HHS'"}],
   "mark": {"type": "text", "font": "Liberation Sans", "fontSize": {"expr": "indexof(datum.t, 'SWW') >= 0 ? 24 : 22"}, "fontWeight": {"expr": "indexof(datum.t, 'SWW') >= 0 ? 'normal' : 'bold'"}, "color": "black", "align": "center", "baseline": "middle"},
   "encoding": {
    "x": {"field": "tx", "type": "quantitative", "scale": {"domain": [20, 113], "nice": false, "zero": false}, "axis": {"values": [20,22,24,26,28,30,32,34,36,38,40,42,44,46,48,50,52,54,56,58,60,62,64,66,68,70,72,74,76,78,80,82,84,86,88,90,92,94,96,98,100,102,104,106,108,110,112], "grid": false, "title": null, "labelExpr": "datum.value == 110 ? datum.label : ''", "labelPadding": 6, "labelOverlap": false, "tickSize": {"condition": {"test": "datum.value % 20 == 0", "value": 5}, "value": 2.5}}},
    "y": {"field": "ty", "type": "quantitative", "scale": {"domain": [0, 16], "nice": false}, "axis": {"values": [0,1,2,3,4,5,6,7,8,9,10,11,12,13,14,15,16], "grid": false, "title": null, "tickSize": 4, "labels": false}},
    "text": {"field": "t"}}}
 ]}
],
"config": {
 "view": {"stroke": "black", "strokeWidth": 1},
 "axis": {"domainColor": "black", "tickColor": "black", "labelColor": "black", "labelFont": "Liberation Sans", "labelFontSize": 20, "labelFontWeight": "bold", "titleFont": "Liberation Sans", "titleFontWeight": "bold", "titleFontSize": 19, "titleColor": "black", "domainWidth": 1, "tickWidth": 1}
}
}
